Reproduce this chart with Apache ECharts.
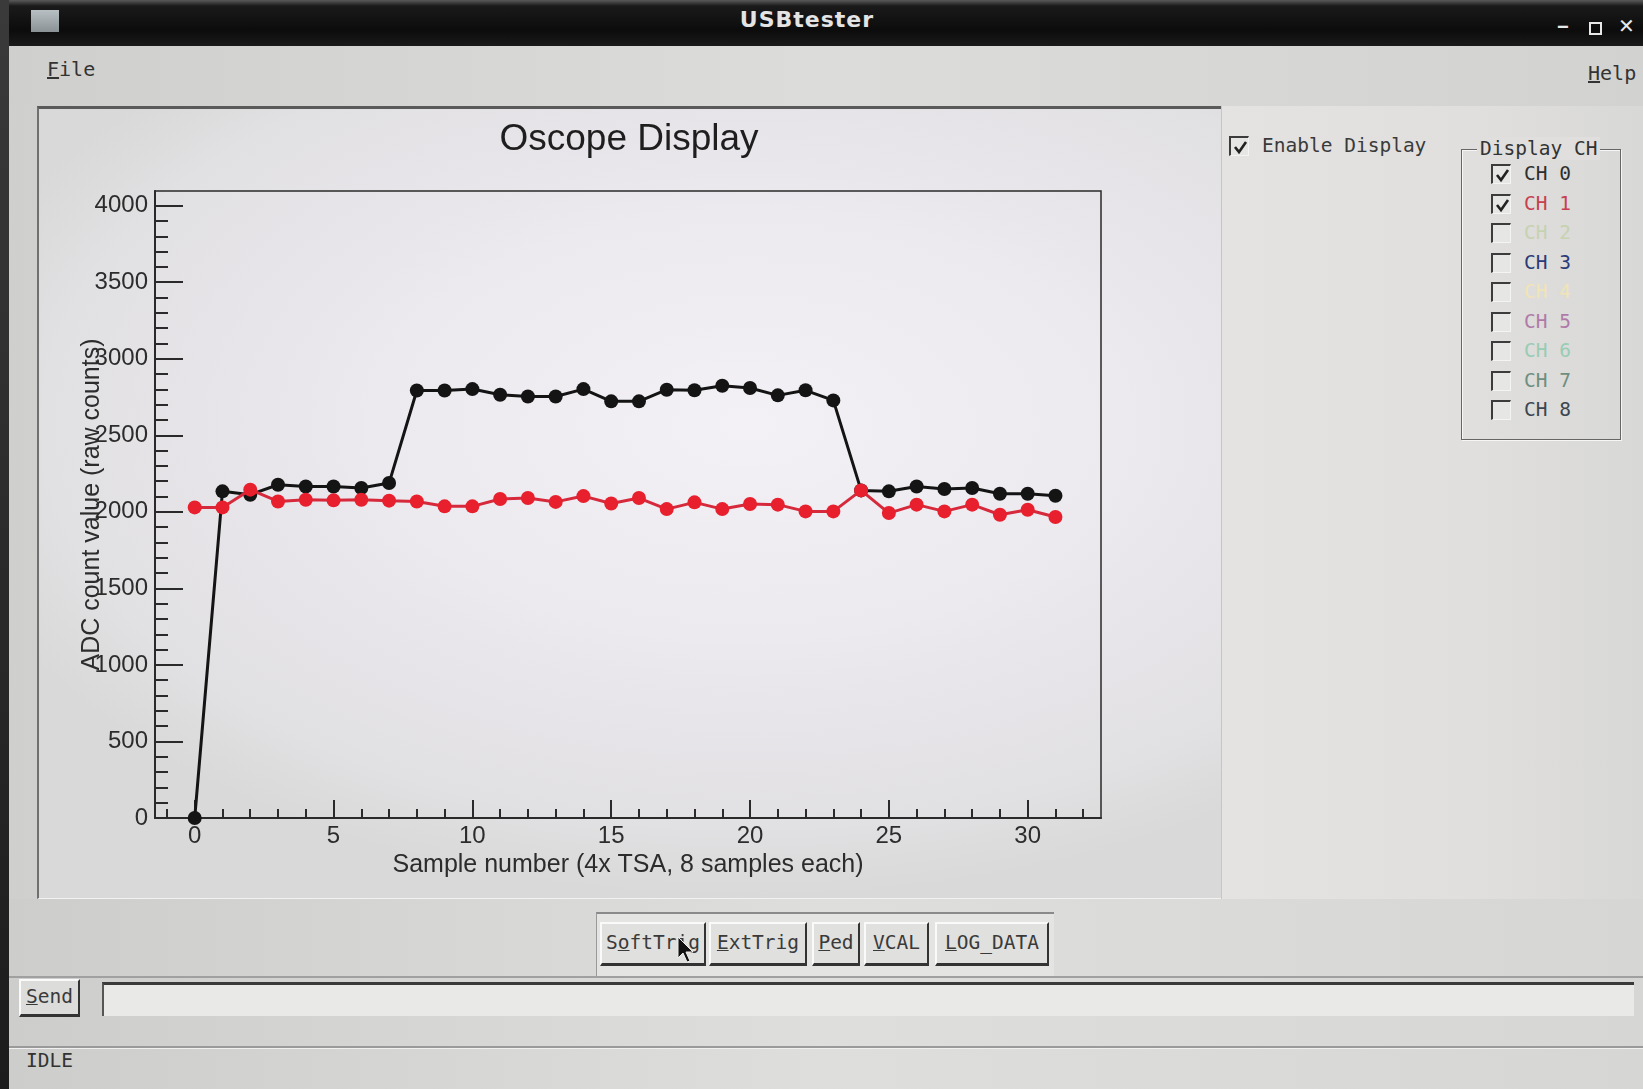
<!DOCTYPE html>
<html>
<head>
<meta charset="utf-8">
<script src="https://cdn.jsdelivr.net/npm/echarts@6/dist/echarts.min.js"></script>
<style>
  html, body { margin:0; padding:0; }
  body { width:1643px; height:1089px; overflow:hidden; position:relative;
         background: linear-gradient(90deg, #cfcfcd 0%, #d9d9d7 40%, #dadad8 70%, #cfcfcd 100%);
         font-family: "DejaVu Sans Mono", monospace; color:#333; }
  .abs { position:absolute; }
  #bezel { left:0; top:0; width:9px; height:1089px; background:linear-gradient(#3a3a3a,#1c1c1c); }
  #titlebar { left:9px; top:0; width:1634px; height:46px;
      background: linear-gradient(#5a5a5a 0px, #1a1a1a 6px, #0c0c0c 30px, #1a1a1a 46px); }
  #titletext { left:0; width:1596px; top:7px; text-align:center; color:#e4e4e4;
      font-family:"DejaVu Sans", sans-serif; font-weight:bold; font-size:22px; letter-spacing:1px; }
  #icon { left:22px; top:10px; width:28px; height:22px; background:linear-gradient(#b8c0c4,#8a9296); }
  .wbtn { top:16px; color:#e8e8e8; font-family:"DejaVu Sans", sans-serif; font-weight:bold; font-size:17px; }
  #menubar { left:9px; top:46px; width:1634px; height:60px;
      background: linear-gradient(90deg,#cfcfcd,#dcdcda 50%,#d2d2d0); }
  .menu { font-size:20px; color:#333; }
  #canvasframe { left:37px; top:106px; width:1184px; height:793px; box-sizing:border-box;
      border-top:3px solid #5a5a5a; border-left:2px solid #707070; border-bottom:1px solid #f2f2f2;
      background: radial-gradient(ellipse 70% 60% at 60% 40%, #f3f1f5 0%, #ece9ef 45%, #e1e0e2 85%, #d9d9d9 100%); }
  #chart { left:37px; top:106px; width:1184px; height:793px; }
  #rightpanel { left:1221px; top:106px; width:422px; height:793px;
      background: linear-gradient(90deg,#e4e3e1,#e0dfdd 60%,#d8d8d6); border-left:1px solid #c6c6c4; box-sizing:border-box; }
  .cb { width:20px; height:20px; box-sizing:border-box; border-top:2px solid #3c3c3c; border-left:2px solid #3c3c3c;
        border-right:1px solid #f4f4f4; border-bottom:1px solid #f4f4f4; background:#e6e6e4; }
  .cb svg { position:absolute; left:1px; top:1px; }
  .lbl { font-size:19.5px; line-height:22px; }
  #grp { left:1461px; top:149px; width:160px; height:291px; box-sizing:border-box;
         border:1px solid #666; box-shadow: 1px 1px 0 #f6f6f6 inset, 1px 1px 0 #f6f6f6; }
  #grptitle { left:1477px; top:137px; background:#e0dfdd; padding:0 3px; font-size:19.5px; color:#333; }
  #bottom { left:9px; top:899px; width:1634px; height:190px;
      background: linear-gradient(90deg,#cdcdcb,#dededc 50%,#d6d6d4); }
  #btngroup { left:596px; top:912px; width:458px; height:64px; box-sizing:border-box;
      border-top:2px solid #8a8a8a; border-left:1px solid #9a9a9a; background:#e4e4e2; }
  .btn { top:922px; height:44px; box-sizing:border-box; border-top:2px solid #fafafa; border-left:2px solid #fafafa;
         border-right:2px solid #333; border-bottom:3px solid #333; background:#e0e0de;
         font-size:19.5px; text-align:center; line-height:38px; color:#3a3a3a; }
  #sendbtn { left:19px; top:979px; width:61px; height:38px; box-sizing:border-box;
      border-top:2px solid #fafafa; border-left:2px solid #fafafa; border-right:2px solid #333; border-bottom:3px solid #333;
      background:#dcdcda; font-size:19.5px; line-height:32px; text-align:center; color:#3a3a3a; }
  #entry { left:102px; top:982px; width:1532px; height:34px; box-sizing:border-box;
      border-top:3px solid #3a3a3a; border-left:2px solid #555; background:#e9e9e7; }
  #sep1 { left:9px; top:976px; width:1634px; height:2px; background:#a0a0a0; }
  #sep2 { left:9px; top:1046px; width:1634px; height:2px; background:#9a9a9a; border-bottom:1px solid #f0f0f0; }
  #status { left:26px; top:1049px; font-size:19.5px; color:#333; }
  u { text-decoration:underline; }
</style>
</head>
<body>
<div id="bezel" class="abs"></div>
<div id="titlebar" class="abs">
  <div id="icon" class="abs"></div>
  <div id="titletext" class="abs">USBtester</div>
  <div class="abs wbtn" style="left:1548px;">‒</div>
  <div class="abs" style="left:1580px;top:22px;width:9px;height:9px;border:2px solid #e8e8e8;"></div>
  <div class="abs wbtn" style="left:1609px;top:14px;font-size:20px;">✕</div>
</div>
<div id="menubar" class="abs">
  <div class="abs menu" style="left:38px;top:11px;"><u>F</u>ile</div>
  <div class="abs menu" style="left:1579px;top:15px;"><u>H</u>elp</div>
</div>
<div id="canvasframe" class="abs"></div>
<div id="rightpanel" class="abs"></div>

<div class="abs cb" style="left:1229px;top:136px;"><svg width="18" height="18"><polyline points="3,8 7,13 14,3" fill="none" stroke="#222" stroke-width="2.6"/></svg></div>
<div class="abs lbl" style="left:1262px;top:135px;color:#3a3a3a;">Enable Display</div>

<div id="grp" class="abs"></div>
<div id="grptitle" class="abs">Display CH</div>
<div id="chlist"></div>

<div id="bottom" class="abs"></div>
<div id="sep1" class="abs"></div>
<div id="btngroup" class="abs"></div>
<div class="abs btn" style="left:600px;width:106px;">S<u>o</u>ftTrig</div>
<div class="abs btn" style="left:709px;width:98px;"><u>E</u>xtTrig</div>
<div class="abs btn" style="left:812px;width:48px;"><u>P</u>ed</div>
<div class="abs btn" style="left:864px;width:65px;"><u>V</u>CAL</div>
<div class="abs btn" style="left:935px;width:114px;"><u>L</u>OG_DATA</div>
<div id="sendbtn" class="abs"><u>S</u>end</div>
<div id="entry" class="abs"></div>
<div id="sep2" class="abs"></div>
<div id="status" class="abs">IDLE</div>

<div id="chart" class="abs"></div>

<svg class="abs" style="left:676px;top:936px;" width="20" height="30">
  <polygon points="2,1 2,22 7,17 11,26 14,25 10,16 17,16" fill="#111" stroke="#eee" stroke-width="1"/>
</svg>

<script>
// ---- data ----
const sampleIdx = [0,1,2,3,4,5,6,7,8,9,10,11,12,13,14,15,16,17,18,19,20,21,22,23,24,25,26,27,28,29,30,31];
const ch0Values = [0,2134,2112,2177,2166,2166,2156,2188,2793,2793,2802,2765,2754,2754,2802,2722,
                   2722,2798,2794,2824,2809,2761,2794,2728,2140,2134,2166,2149,2156,2118,2118,2105];
const ch1Values = [2029,2029,2145,2068,2079,2075,2079,2073,2068,2036,2036,2084,2090,2065,2103,2055,
                   2090,2018,2062,2018,2051,2047,2003,2003,2140,1992,2047,2003,2047,1981,2014,1966];
const xTickLabels = [0,5,10,15,20,25,30];
const yTickLabels = [0,500,1000,1500,2000,2500,3000,3500,4000];
const channelNames = ['CH 0','CH 1','CH 2','CH 3','CH 4','CH 5','CH 6','CH 7','CH 8'];
const channelChecked = [true,true,false,false,false,false,false,false,false];

// ---- style ----
const channelColors = ['#2e2e2e','#c8404e','#c6d2b0','#2c3a78','#f0e4b8','#b07aa8','#98ccb4','#6f8e80','#3c4650'];
const xMin = -1.43, xMax = 32.64, yMin = 0, yMax = 4096;

// minor tick positions
const xMinor = []; for (let v = -1; v <= 32; v++) if (xTickLabels.indexOf(v) < 0) xMinor.push(v);
const yMinor = []; for (let v = 100; v < 4000; v += 100) if (yTickLabels.indexOf(v) < 0) yMinor.push(v);

// channel list
const chlist = document.getElementById('chlist');
channelNames.forEach((n, i) => {
  const top = 164 + i * 29.5;
  const cb = document.createElement('div');
  cb.className = 'abs cb'; cb.style.left = '1491px'; cb.style.top = top + 'px';
  if (channelChecked[i]) cb.innerHTML = '<svg width="18" height="18"><polyline points="3,8 7,13 14,3" fill="none" stroke="#222" stroke-width="2.6"/></svg>';
  chlist.appendChild(cb);
  const l = document.createElement('div');
  l.className = 'abs lbl'; l.style.left = '1524px'; l.style.top = (top - 1) + 'px';
  l.style.color = channelColors[i]; l.textContent = n;
  chlist.appendChild(l);
});

const ch0Data = sampleIdx.map((x, i) => [x, ch0Values[i]]);
const ch1Data = sampleIdx.map((x, i) => [x, ch1Values[i]]);

const axisColor = '#2a2a2a';
const labelFont = { fontFamily: 'Liberation Sans', fontSize: 24, color: '#2c2c2c', formatter: v => String(v) };

const chart = echarts.init(document.getElementById('chart'), null, { renderer: 'canvas' });
chart.setOption({
  animation: false,
  backgroundColor: 'transparent',
  title: {
    text: 'Oscope Display', left: 'center', top: 10,
    textStyle: { fontFamily: 'Liberation Sans', fontSize: 37, fontWeight: 'normal', color: '#1e1e1e' }
  },
  grid: { left: 118, top: 85, width: 946, height: 627, show: true,
          borderColor: axisColor, borderWidth: 1.5, backgroundColor: 'transparent' },
  xAxis: [
    { type: 'value', min: xMin, max: xMax, position: 'bottom',
      axisLine: { show: true, onZero: false, lineStyle: { color: axisColor, width: 2 } },
      axisTick: { show: true, inside: true, length: 18, customValues: xTickLabels, lineStyle: { color: axisColor, width: 2 } },
      axisLabel: Object.assign({ customValues: xTickLabels, margin: 6 }, labelFont),
      splitLine: { show: false },
      name: 'Sample number (4x TSA, 8 samples each)', nameLocation: 'middle', nameGap: 31,
      nameTextStyle: { fontFamily: 'Liberation Sans', fontSize: 25, color: '#2c2c2c' } },
    { type: 'value', min: xMin, max: xMax, position: 'bottom', offset: 0,
      axisLine: { show: false, onZero: false },
      axisTick: { show: true, inside: true, length: 9, customValues: xMinor, lineStyle: { color: axisColor, width: 2 } },
      axisLabel: { show: false }, splitLine: { show: false } }
  ],
  yAxis: [
    { type: 'value', min: yMin, max: yMax, position: 'left',
      axisLine: { show: true, onZero: false, lineStyle: { color: axisColor, width: 2 } },
      axisTick: { show: true, inside: true, length: 28, customValues: yTickLabels, lineStyle: { color: axisColor, width: 2 } },
      axisLabel: Object.assign({ customValues: yTickLabels, margin: 7 }, labelFont),
      splitLine: { show: false },
      name: 'ADC count value (raw counts)', nameLocation: 'middle', nameRotate: 90, nameGap: 50,
      nameMoveOverlap: false,
      nameTextStyle: { fontFamily: 'Liberation Sans', fontSize: 25, color: '#2c2c2c' } },
    { type: 'value', min: yMin, max: yMax, position: 'left', offset: 0,
      axisLine: { show: false, onZero: false },
      axisTick: { show: true, inside: true, length: 13, customValues: yMinor, lineStyle: { color: axisColor, width: 2 } },
      axisLabel: { show: false }, splitLine: { show: false } }
  ],
  series: [
    { name: 'CH 0', type: 'line', xAxisIndex: 0, yAxisIndex: 0, data: ch0Data, clip: false,
      symbol: 'circle', symbolSize: 14, z: 2,
      lineStyle: { color: '#141414', width: 3 }, itemStyle: { color: '#141414' } },
    { name: 'CH 1', type: 'line', xAxisIndex: 0, yAxisIndex: 0, data: ch1Data, clip: false,
      symbol: 'circle', symbolSize: 14, z: 3,
      lineStyle: { color: '#d62a3c', width: 3 }, itemStyle: { color: '#e81f2d' } }
  ]
});
</script>
</body>
</html>
